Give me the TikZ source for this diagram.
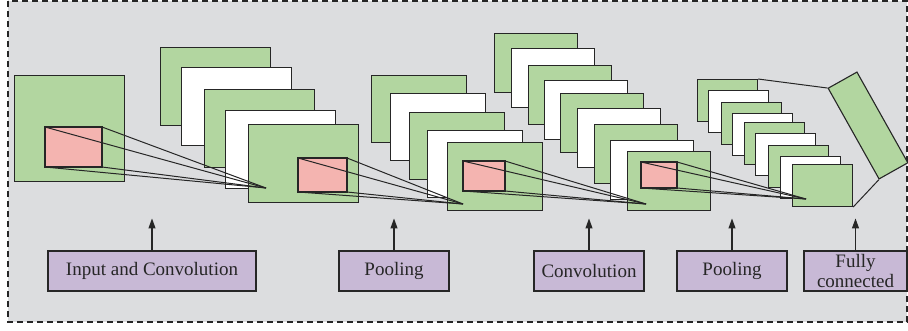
\documentclass[tikz,border=0pt]{standalone}
\usepackage{fontspec}
\setmainfont{Liberation Serif}
\usetikzlibrary{arrows.meta}
\definecolor{bg}{HTML}{DCDDDF}
\definecolor{gr}{HTML}{B2D6A0}
\definecolor{pk}{HTML}{F4B4B0}
\definecolor{pu}{HTML}{C8B9D6}
\definecolor{ln}{HTML}{262626}
\begin{document}
\begin{tikzpicture}[x=1pt,y=-1pt,
  fm/.style={draw=ln,line width=1.1pt,inner sep=0pt,anchor=north west},
  gfm/.style={fm,fill=gr},
  wfm/.style={fm,fill=white},
  pkr/.style={draw=ln,line width=1.1pt,fill=pk},
  ray/.style={draw=ln,line width=1pt},
  lab/.style={draw=ln,line width=1.1pt,fill=pu,inner sep=0pt,minimum height=40pt,align=center,
    font=\fontsize{19}{19.5}\selectfont,text=ln},
  arr/.style={draw=ln,line width=1.1pt,-{Triangle[length=10pt,width=7pt]}}]
\useasboundingbox (0,0) rectangle (908,330);
\fill[white] (0,0) rectangle (908,330);
\draw[fill=bg,draw=ln,line width=1.1pt,dash pattern=on 6pt off 4pt] (8,1) rectangle (907,322);
% input
\node[gfm,minimum width=110pt,minimum height=106pt] (in) at (14,75) {};
\draw[pkr] (45,127) coordinate (i1) rectangle (102,167) coordinate (i4);
\coordinate (i2) at (102,127); \coordinate (i3) at (45,167);
% conv1
\node[gfm,minimum width=110pt,minimum height=78pt] (c1-1) at (160,47) {};
\node[wfm,minimum width=110pt,minimum height=78pt] (c1-2) at (181,67) {};
\node[gfm,minimum width=110pt,minimum height=78pt] (c1-3) at (204,89) {};
\node[wfm,minimum width=110pt,minimum height=78pt] (c1-4) at (225,110) {};
\node[gfm,minimum width=110pt,minimum height=78pt] (c1-5) at (248,124) {};
\coordinate (p1) at (266,188);
\foreach \c in {i1,i2,i3,i4} \draw[ray] (\c) -- (p1);
\draw[pkr] (298,158) coordinate (a1) rectangle (347,192) coordinate (a4);
\coordinate (a2) at (347,158); \coordinate (a3) at (298,192);
% pool1
\node[gfm,minimum width=95pt,minimum height=67pt] (p1-1) at (371,75) {};
\node[wfm,minimum width=95pt,minimum height=67pt] (p1-2) at (390,93) {};
\node[gfm,minimum width=95pt,minimum height=67pt] (p1-3) at (409,112) {};
\node[wfm,minimum width=95pt,minimum height=67pt] (p1-4) at (427,130) {};
\node[gfm,minimum width=95pt,minimum height=68pt] (p1-5) at (447,142) {};
\coordinate (p2) at (463,204);
\foreach \c in {a1,a2,a3,a4} \draw[ray] (\c) -- (p2);
\draw[pkr] (463,161) coordinate (b1) rectangle (505,191) coordinate (b4);
\coordinate (b2) at (505,161); \coordinate (b3) at (463,191);
% conv2
\foreach \i/\x/\y/\f in {1/494/33/gr,2/511/48/white,3/528/65/gr,4/544/80/white,5/560/93/gr,6/577/108/white,7/594/124/gr,8/610/140/white,9/627/151/gr}
  \node[fm,fill=\f,minimum width=83pt,minimum height=59pt] (c2-\i) at (\x,\y) {};
\coordinate (p3) at (646,204);
\foreach \c in {b1,b2,b3,b4} \draw[ray] (\c) -- (p3);
\draw[pkr] (641,162) coordinate (d1) rectangle (677,188) coordinate (d4);
\coordinate (d2) at (677,162); \coordinate (d3) at (641,188);
% pool2
\foreach \i/\x/\y/\f in {1/697/79/gr,2/708/90/white,3/721/102/gr,4/732/113/white,5/744/122/gr,6/755/133/white,7/768/145/gr,8/780/156/white,9/792/164/gr}
  \node[fm,fill=\f,minimum width=60pt,minimum height=42pt] (q-\i) at (\x,\y) {};
\coordinate (p4) at (806,199);
\foreach \c in {d1,d2,d3,d4} \draw[ray] (\c) -- (p4);
% fully connected
\node[draw=ln,line width=1.1pt,fill=gr,inner sep=0pt,minimum width=104pt,minimum height=33pt,rotate=-60.7] (fc) at (868,125.5) {};
\draw[ray] (q-1.north east) -- (fc.south west);
\draw[ray] (q-9.south east) -- (fc.south east);
% labels
\node[lab,minimum width=208pt] (l1) at (152,271) {Input and Convolution};
\node[lab,minimum width=110pt] (l2) at (394,271) {Pooling};
\node[lab,minimum width=110pt] (l3) at (589,271) {Convolution};
\node[lab,minimum width=110pt] (l4) at (732,271) {Pooling};
\node[lab,minimum width=103pt] (l5) at (855.5,271) {Fully\\connected};
\foreach \l in {l1,l2,l3,l4,l5} \draw[arr] (\l.north) -- ++(0,-32);
\end{tikzpicture}
\end{document}
